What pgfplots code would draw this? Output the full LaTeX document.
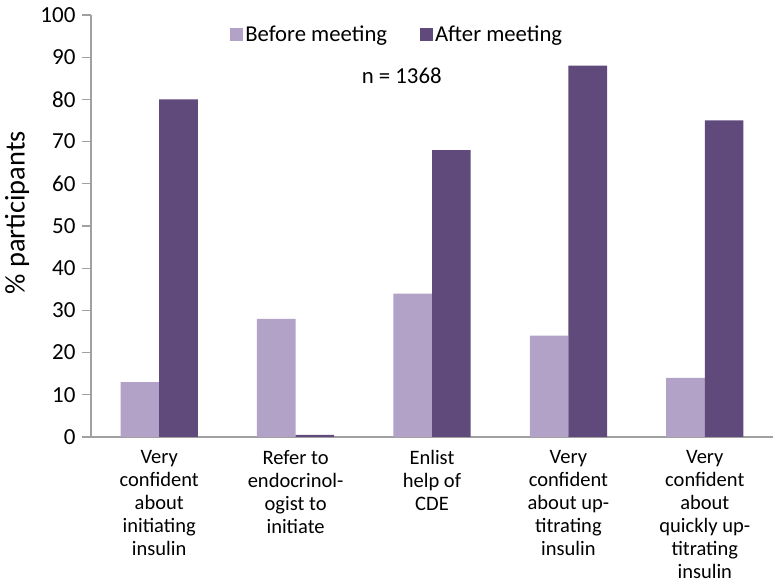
\documentclass[border=0pt]{standalone}
\usepackage{pgfplots}
\pgfplotsset{compat=1.18}
\usepackage{fontspec}
\setmainfont{Carlito}
\definecolor{before}{RGB}{179,162,199}
\definecolor{after}{RGB}{96,74,123}
\definecolor{axgray}{RGB}{160,160,160}
\begin{document}
\begin{tikzpicture}
\useasboundingbox (-91pt,-148pt) rectangle (686pt,437pt);
\begin{axis}[
  at={(0,0)}, anchor=south west,
  scale only axis, width=682pt, height=422pt,
  xmin=-0.5, xmax=4.5, ymin=0, ymax=100,
  ytick={0,10,...,100},
  xtick={0,1,2,3,4},
  xticklabels={{Very\\confident\\about\\initiating\\insulin},
               {Refer to\\endocrinol-\\ogist to\\initiate},
               {Enlist\\help of\\CDE},
               {Very\\confident\\about up-\\titrating\\insulin},
               {Very\\confident\\about\\quickly up-\\titrating\\insulin}},
  axis x line=bottom, axis y line=left,
  axis line style={draw=axgray, line width=1.3pt, -},
  tick align=outside, major tick length=9pt,
  ytick style={draw=axgray, line width=1.3pt},
  xtick style={draw=none},
  /pgf/number format/assume math mode=true,
  yticklabel style={font=\fontsize{23}{27}\selectfont, xshift=-3pt},
  xticklabel style={font=\fontsize{20.5}{23}\selectfont, align=center, anchor=north, yshift=-1pt},
  ybar=0pt, bar width=38.6pt,
  legend columns=2,
  legend style={at={(axis description cs:0.449,0.953)}, anchor=center, draw=none, fill=none,
    font=\fontsize{22.7}{27}\selectfont,
    /tikz/every even column/.append style={column sep=31pt},
    /tikz/every odd column/.append style={column sep=0pt}},
  clip=false,
]
\addplot[fill=before, draw=none, legend image code/.code={\fill[before] (-4pt,-6.5pt) rectangle (9pt,6.5pt);}]
  coordinates {(0,13) (1,28) (2,34) (3,24) (4,14)};
\addplot[fill=after, draw=none, legend image code/.code={\fill[after] (-4pt,-6.5pt) rectangle (9pt,6.5pt);}]
  coordinates {(0,80) (1,0.5) (2,68) (3,88) (4,75)};
\legend{Before meeting, After meeting}
\node[font=\fontsize{22.8}{27}\selectfont] at (axis description cs:0.4556,0.855) {n = 1368};
\node[font=\fontsize{28.4}{32}\selectfont, rotate=90] at (axis description cs:-0.1085,0.531) {\% participants};
\end{axis}
\end{tikzpicture}
\end{document}
